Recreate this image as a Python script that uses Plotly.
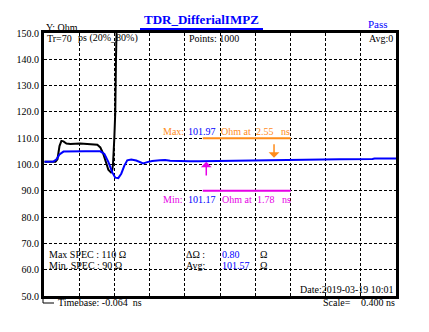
import plotly.graph_objects as go

# ---- data (time in ns, impedance in Ohm) ----
blue_t = [-0.058, 0.010, 0.044, 0.078, 0.112, 0.157, 0.236, 0.406, 0.576, 0.622, 0.667, 0.712,
          0.746, 0.780, 0.814, 0.848, 0.882, 0.927, 0.984, 1.029, 1.063, 1.109, 1.165, 1.256,
          1.313, 1.369, 1.426, 1.505, 1.596, 1.709, 1.902, 2.049, 2.366, 2.559, 2.842, 3.295,
          3.669, 3.692, 3.936]
blue_v = [101.0, 101.0, 101.1, 102.0, 103.8, 104.9, 105.0, 105.0, 105.0, 104.0, 101.0, 97.0,
          95.0, 94.8, 96.5, 99.5, 101.6, 101.9, 101.5, 101.0, 100.4, 100.9, 101.3, 101.6,
          101.7, 101.4, 101.3, 101.1, 101.2, 101.2, 101.3, 101.5, 101.7, 101.9, 102.0, 102.0,
          102.1, 102.3, 102.3]

black_t = [-0.058, 0.066, 0.089, 0.112, 0.134, 0.157, 0.191, 0.236, 0.349, 0.463, 0.542,
           0.576, 0.610, 0.644, 0.667, 0.690, 0.701, 0.712, 0.720, 0.735, 0.746, 0.754,
           0.763, 0.775]
black_v = [101.0, 101.0, 102.0, 107.0, 109.0, 108.8, 108.0, 107.8, 108.0, 107.8, 107.5,
           106.5, 104.0, 100.5, 98.0, 97.2, 96.8, 98.0, 100.0, 110.0, 120.0, 140.0,
           152.0, 175.0]

spec_max = 110
spec_min = 90
window_t = [1.74, 2.74]
max_val, max_t = 101.97, 2.55
min_val, min_t = 101.17, 1.78
delta_val = 0.80
avg_val = 101.57
timebase = -0.064
scale = 0.400
y_ticks = [50, 60, 70, 80, 90, 100, 110, 120, 130, 140, 150]

ORANGE = "#FF8C1A"
MAGENTA = "#E600E6"
BLUE = "#0000FF"
FONT = "Liberation Serif"

x_end = timebase + 10 * scale

fig = go.Figure()
fig.add_trace(go.Scatter(x=black_t, y=black_v, mode="lines",
                         line=dict(color="black", width=2), hoverinfo="skip"))
fig.add_trace(go.Scatter(x=blue_t, y=blue_v, mode="lines",
                         line=dict(color=BLUE, width=2), hoverinfo="skip"))
fig.add_trace(go.Scatter(x=window_t, y=[spec_max, spec_max], mode="lines",
                         line=dict(color=ORANGE, width=2), hoverinfo="skip"))
fig.add_trace(go.Scatter(x=window_t, y=[spec_min, spec_min], mode="lines",
                         line=dict(color=MAGENTA, width=2), hoverinfo="skip"))

L, T, W, H = 44, 33, 352, 263


def px(x):
    return (x - L) / W


def py(y):
    return (T + H - y) / H


ann = []


def txt(text, x, y, color="black", size=10, xanchor="left", bold=False):
    if bold:
        text = "<b>" + text + "</b>"
    ann.append(dict(text=text, x=px(x), y=py(y), xref="paper", yref="paper",
                    xanchor=xanchor, yanchor="middle", showarrow=False,
                    font=dict(family=FONT, size=size, color=color), borderpad=0))


txt("TDR_DifferialIMPZ", 201, 20, BLUE, 13, "center", bold=True)
txt("Y: Ohm", 45, 27, "black", 10)
txt("Pass", 367, 24, BLUE, 11)
txt("Tr=70", 46, 38, "black", 10)
txt("ps (20%_80%)", 77, 38, "black", 10)
txt("Points: 1000", 188, 38, "black", 10)
txt("Avg:0", 394, 38, "black", 10, "right")

# Max / Min labels
txt("Max:", 162, 131, ORANGE, 10)
txt(f"{max_val:.2f}", 187, 131, BLUE, 10)
txt("Ohm at", 220, 131, ORANGE, 10)
txt(f"{max_t:.2f}", 255, 131, ORANGE, 10)
txt("ns", 280, 131, ORANGE, 10)
txt("Min:", 162, 199, MAGENTA, 10)
txt(f"{min_val:.2f}", 187, 199, BLUE, 10)
txt("Ohm at", 221, 199, MAGENTA, 10)
txt(f"{min_t:.2f}", 256, 199, MAGENTA, 10)
txt("ns", 281, 199, MAGENTA, 10)

# bottom info
txt(f"Max SPEC : {spec_max} Ω", 48, 254, "black", 10)
txt(f"Min. SPEC : {spec_min} Ω", 48, 265, "black", 10)
txt("ΔΩ :", 185, 254, "black", 10)
txt(f"{delta_val:.2f}", 221, 254, BLUE, 10)
txt("Ω", 259, 254, "black", 10)
txt("Avg:", 185, 265, "black", 10)
txt(f"{avg_val:.2f}", 221, 265, BLUE, 10)
txt("Ω", 259, 265, "black", 10)
txt("Date:2019-03-19 10:01", 395, 289, "black", 10, "right")
txt("Scale=", 322, 302, "black", 10)
txt(f"{scale:.3f} ns", 396, 302, "black", 10, "right")
txt(f"Timebase: {timebase:.3f}  ns", 57, 302, "black", 10)

# arrows
ann.append(dict(x=max_t, y=102.6, ax=max_t, ay=108.3, xref="x", yref="y",
                axref="x", ayref="y", showarrow=True, arrowhead=1, arrowsize=1.2,
                arrowwidth=1.5, arrowcolor=ORANGE, text=""))
ann.append(dict(x=min_t, y=101.0, ax=min_t, ay=95.2, xref="x", yref="y",
                axref="x", ayref="y", showarrow=True, arrowhead=1, arrowsize=1.2,
                arrowwidth=1.5, arrowcolor=MAGENTA, text=""))

shapes = [
    dict(type="line", xref="paper", yref="paper", x0=px(140), x1=px(263),
         y0=py(29), y1=py(29), line=dict(color=BLUE, width=2)),
    dict(type="path", xref="paper", yref="paper",
         path=f"M {px(43)} {py(296)} L {px(43)} {py(303)} L {px(54)} {py(303)}",
         line=dict(color="black", width=1)),
]

fig.update_layout(
    width=429, height=332,
    margin=dict(l=L, r=429 - L - W, t=T, b=332 - T - H),
    paper_bgcolor="white", plot_bgcolor="white",
    showlegend=False,
    annotations=ann, shapes=shapes,
    font=dict(family=FONT, size=10, color="black"),
)
fig.update_xaxes(range=[timebase, x_end], tick0=timebase, dtick=scale,
                 showticklabels=False, ticks="", showgrid=True,
                 gridcolor="black", gridwidth=1, griddash="3px,2px",
                 showline=True, linecolor="black", linewidth=3, mirror=True,
                 zeroline=False, fixedrange=True)
fig.update_yaxes(range=[50, 150], tickvals=y_ticks,
                 ticktext=[f"{v:.1f}" for v in y_ticks], ticks="",
                 tickfont=dict(family=FONT, size=10, color="black"),
                 showgrid=True, gridcolor="black", gridwidth=1, griddash="3px,2px",
                 showline=True, linecolor="black", linewidth=3, mirror=True,
                 zeroline=False, fixedrange=True)

fig.write_html("out.html", config={"displayModeBar": False})
